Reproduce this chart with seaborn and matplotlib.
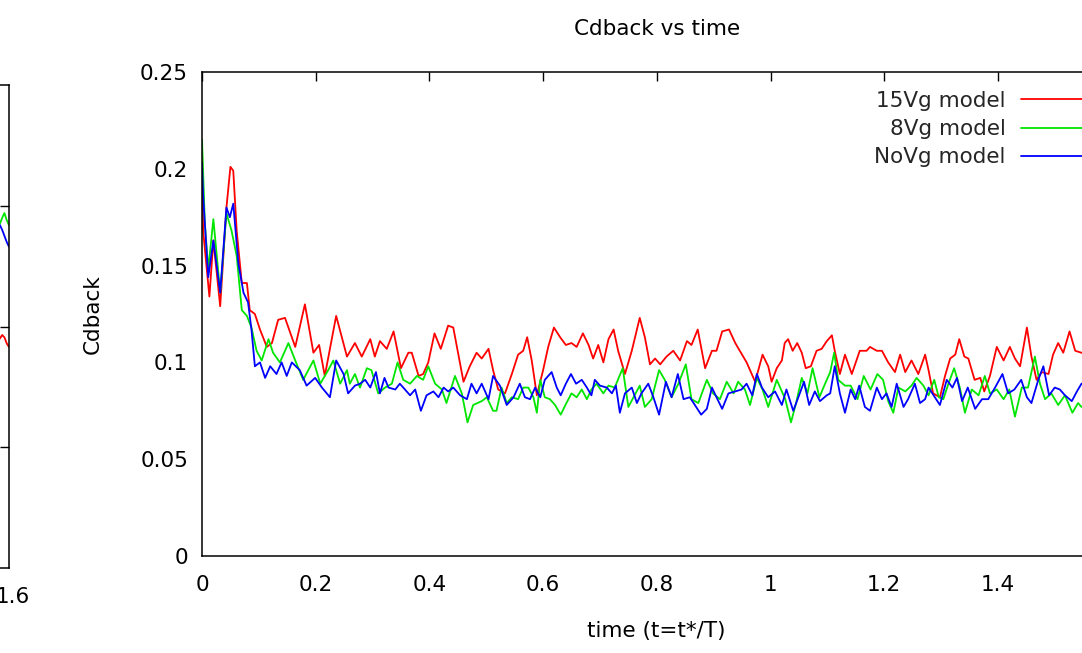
import numpy as np
import pandas as pd
import matplotlib
matplotlib.use("Agg")
import matplotlib.pyplot as plt
from matplotlib.ticker import FuncFormatter
from matplotlib.transforms import ScaledTranslation
import seaborn as sns

# ---------------- data ----------------
red_t = [0.000, 0.002, 0.013, 0.020, 0.032, 0.043, 0.050, 0.055, 0.061, 0.070, 0.079, 0.084, 0.093, 0.102,
         0.114, 0.123, 0.134, 0.146, 0.164, 0.181, 0.196, 0.206, 0.216, 0.236, 0.255, 0.269, 0.281, 0.296,
         0.304, 0.313, 0.325, 0.337, 0.350, 0.363, 0.369, 0.381, 0.389, 0.398, 0.409, 0.420, 0.433, 0.442,
         0.460, 0.471, 0.483, 0.492, 0.504, 0.512, 0.521, 0.533, 0.545, 0.556, 0.565, 0.572, 0.580, 0.589,
         0.600, 0.609, 0.619, 0.630, 0.640, 0.650, 0.659, 0.670, 0.680, 0.688, 0.697, 0.706, 0.715, 0.724,
         0.732, 0.744, 0.756, 0.770, 0.779, 0.788, 0.797, 0.806, 0.817, 0.829, 0.841, 0.853, 0.861, 0.872,
         0.885, 0.897, 0.905, 0.915, 0.927, 0.938, 0.946, 0.958, 0.973, 0.986, 0.996, 1.002, 1.011, 1.020,
         1.025, 1.031, 1.039, 1.047, 1.055, 1.062, 1.071, 1.081, 1.090, 1.099, 1.108, 1.113, 1.122, 1.131,
         1.143, 1.157, 1.169, 1.175, 1.187, 1.196, 1.207, 1.219, 1.228, 1.237, 1.248, 1.260, 1.272, 1.278,
         1.286, 1.298, 1.307, 1.316, 1.325, 1.332, 1.341, 1.348, 1.359, 1.369, 1.376, 1.386, 1.398, 1.410,
         1.421, 1.430, 1.439, 1.451, 1.459, 1.468, 1.477, 1.489, 1.497, 1.506, 1.515, 1.526, 1.536, 1.547,
         1.560]
red_cd = [0.213, 0.168, 0.134, 0.163, 0.129, 0.180, 0.201, 0.199, 0.168, 0.141, 0.141, 0.127, 0.125, 0.117,
          0.108, 0.110, 0.122, 0.123, 0.108, 0.130, 0.105, 0.109, 0.093, 0.124, 0.103, 0.110, 0.103, 0.112,
          0.103, 0.111, 0.107, 0.116, 0.097, 0.105, 0.105, 0.093, 0.094, 0.100, 0.115, 0.107, 0.119, 0.118,
          0.090, 0.098, 0.105, 0.102, 0.107, 0.096, 0.086, 0.084, 0.094, 0.104, 0.106, 0.113, 0.101, 0.083,
          0.096, 0.108, 0.118, 0.113, 0.109, 0.110, 0.108, 0.115, 0.109, 0.102, 0.109, 0.100, 0.112, 0.117,
          0.106, 0.094, 0.106, 0.123, 0.113, 0.099, 0.102, 0.099, 0.103, 0.106, 0.101, 0.111, 0.109, 0.117,
          0.097, 0.106, 0.106, 0.116, 0.117, 0.110, 0.106, 0.100, 0.090, 0.104, 0.098, 0.090, 0.097, 0.101,
          0.110, 0.112, 0.106, 0.110, 0.105, 0.097, 0.098, 0.106, 0.107, 0.111, 0.114, 0.106, 0.094, 0.104,
          0.094, 0.106, 0.106, 0.108, 0.106, 0.106, 0.100, 0.095, 0.104, 0.095, 0.101, 0.094, 0.104, 0.096,
          0.084, 0.082, 0.093, 0.102, 0.104, 0.112, 0.103, 0.102, 0.091, 0.092, 0.085, 0.093, 0.108, 0.101,
          0.108, 0.102, 0.098, 0.118, 0.103, 0.091, 0.095, 0.094, 0.104, 0.110, 0.105, 0.116, 0.106, 0.105,
          0.103]

green_t = [0.000, 0.005, 0.011, 0.020, 0.032, 0.043, 0.052, 0.061, 0.070, 0.079, 0.087, 0.096, 0.105, 0.117,
           0.125, 0.137, 0.152, 0.164, 0.178, 0.196, 0.208, 0.222, 0.231, 0.243, 0.255, 0.260, 0.269, 0.278,
           0.290, 0.298, 0.310, 0.322, 0.334, 0.344, 0.354, 0.366, 0.378, 0.389, 0.398, 0.410, 0.422, 0.430,
           0.445, 0.457, 0.467, 0.477, 0.492, 0.501, 0.512, 0.518, 0.527, 0.536, 0.545, 0.556, 0.565, 0.574,
           0.583, 0.589, 0.595, 0.603, 0.612, 0.621, 0.631, 0.641, 0.650, 0.659, 0.668, 0.677, 0.685, 0.694,
           0.706, 0.715, 0.726, 0.740, 0.750, 0.759, 0.770, 0.779, 0.791, 0.804, 0.814, 0.826, 0.838, 0.851,
           0.861, 0.873, 0.888, 0.899, 0.911, 0.923, 0.935, 0.943, 0.955, 0.964, 0.976, 0.986, 0.996, 1.011,
           1.026, 1.036, 1.045, 1.055, 1.065, 1.074, 1.086, 1.096, 1.105, 1.112, 1.119, 1.131, 1.141, 1.153,
           1.164, 1.176, 1.188, 1.198, 1.207, 1.216, 1.225, 1.237, 1.248, 1.257, 1.269, 1.278, 1.288, 1.296,
           1.304, 1.313, 1.323, 1.333, 1.342, 1.354, 1.366, 1.377, 1.386, 1.398, 1.410, 1.420, 1.430, 1.442,
           1.453, 1.465, 1.474, 1.483, 1.494, 1.506, 1.518, 1.531, 1.541, 1.547, 1.560]
green_cd = [0.215, 0.172, 0.148, 0.174, 0.136, 0.177, 0.168, 0.155, 0.127, 0.124, 0.118, 0.106, 0.101, 0.112,
            0.105, 0.100, 0.110, 0.101, 0.091, 0.101, 0.089, 0.096, 0.101, 0.089, 0.096, 0.089, 0.094, 0.087,
            0.097, 0.096, 0.084, 0.087, 0.089, 0.100, 0.091, 0.089, 0.093, 0.091, 0.098, 0.089, 0.086, 0.079,
            0.093, 0.084, 0.069, 0.078, 0.080, 0.082, 0.075, 0.075, 0.087, 0.079, 0.082, 0.081, 0.087, 0.087,
            0.082, 0.074, 0.091, 0.082, 0.081, 0.078, 0.073, 0.079, 0.084, 0.082, 0.086, 0.081, 0.086, 0.089,
            0.084, 0.088, 0.087, 0.097, 0.077, 0.082, 0.088, 0.077, 0.081, 0.096, 0.091, 0.082, 0.089, 0.099,
            0.081, 0.079, 0.091, 0.084, 0.081, 0.090, 0.084, 0.090, 0.086, 0.078, 0.092, 0.086, 0.077, 0.091,
            0.081, 0.069, 0.079, 0.092, 0.084, 0.097, 0.082, 0.089, 0.095, 0.105, 0.091, 0.088, 0.088, 0.081,
            0.093, 0.086, 0.094, 0.091, 0.080, 0.074, 0.087, 0.085, 0.088, 0.092, 0.088, 0.083, 0.091, 0.082,
            0.081, 0.089, 0.097, 0.087, 0.074, 0.086, 0.083, 0.093, 0.084, 0.086, 0.081, 0.086, 0.072, 0.087,
            0.087, 0.103, 0.089, 0.081, 0.084, 0.078, 0.083, 0.074, 0.079, 0.077, 0.079]

blue_t = [0.000, 0.002, 0.011, 0.020, 0.032, 0.043, 0.049, 0.055, 0.064, 0.073, 0.081, 0.087, 0.093, 0.102,
          0.111, 0.120, 0.131, 0.140, 0.149, 0.158, 0.172, 0.184, 0.199, 0.211, 0.225, 0.236, 0.249, 0.257,
          0.269, 0.278, 0.287, 0.296, 0.306, 0.313, 0.321, 0.328, 0.340, 0.348, 0.357, 0.366, 0.375, 0.385,
          0.395, 0.407, 0.416, 0.425, 0.433, 0.442, 0.454, 0.466, 0.474, 0.483, 0.492, 0.504, 0.512, 0.524,
          0.536, 0.548, 0.559, 0.568, 0.577, 0.586, 0.595, 0.603, 0.615, 0.624, 0.631, 0.640, 0.649, 0.658,
          0.668, 0.677, 0.685, 0.691, 0.700, 0.712, 0.721, 0.728, 0.735, 0.744, 0.756, 0.765, 0.773, 0.785,
          0.794, 0.804, 0.816, 0.826, 0.837, 0.847, 0.858, 0.867, 0.878, 0.888, 0.897, 0.905, 0.915, 0.926,
          0.938, 0.949, 0.958, 0.968, 0.976, 0.985, 0.996, 1.008, 1.020, 1.028, 1.040, 1.049, 1.059, 1.068,
          1.078, 1.087, 1.099, 1.105, 1.113, 1.122, 1.131, 1.141, 1.149, 1.156, 1.166, 1.175, 1.187, 1.196,
          1.204, 1.213, 1.222, 1.234, 1.242, 1.254, 1.263, 1.272, 1.278, 1.289, 1.298, 1.310, 1.320, 1.328,
          1.337, 1.347, 1.360, 1.372, 1.383, 1.395, 1.408, 1.418, 1.429, 1.441, 1.451, 1.459, 1.471, 1.480,
          1.490, 1.500, 1.509, 1.518, 1.530, 1.539, 1.547, 1.560]
blue_cd = [0.203, 0.186, 0.144, 0.163, 0.136, 0.180, 0.175, 0.182, 0.151, 0.136, 0.131, 0.117, 0.098, 0.100,
           0.092, 0.098, 0.094, 0.100, 0.093, 0.100, 0.096, 0.088, 0.092, 0.087, 0.082, 0.101, 0.094, 0.084,
           0.088, 0.089, 0.091, 0.087, 0.095, 0.084, 0.092, 0.087, 0.086, 0.089, 0.086, 0.083, 0.086, 0.075,
           0.083, 0.085, 0.082, 0.087, 0.085, 0.087, 0.083, 0.081, 0.089, 0.084, 0.089, 0.081, 0.093, 0.088,
           0.078, 0.082, 0.089, 0.082, 0.081, 0.087, 0.082, 0.091, 0.095, 0.087, 0.083, 0.089, 0.094, 0.089,
           0.091, 0.087, 0.083, 0.091, 0.088, 0.087, 0.084, 0.088, 0.074, 0.084, 0.087, 0.079, 0.084, 0.089,
           0.082, 0.073, 0.090, 0.082, 0.094, 0.081, 0.082, 0.078, 0.073, 0.076, 0.087, 0.082, 0.076, 0.084,
           0.085, 0.086, 0.089, 0.083, 0.094, 0.087, 0.082, 0.085, 0.078, 0.086, 0.075, 0.082, 0.090, 0.078,
           0.085, 0.080, 0.083, 0.084, 0.098, 0.084, 0.074, 0.086, 0.081, 0.088, 0.077, 0.075, 0.087, 0.081,
           0.084, 0.077, 0.089, 0.077, 0.081, 0.089, 0.079, 0.081, 0.087, 0.082, 0.078, 0.091, 0.087, 0.092,
           0.080, 0.087, 0.076, 0.081, 0.081, 0.087, 0.094, 0.084, 0.086, 0.091, 0.082, 0.079, 0.091, 0.098,
           0.083, 0.087, 0.086, 0.083, 0.080, 0.085, 0.089, 0.090]

# tail of the neighbouring (cropped) plot on the far left
left_t = [1.584, 1.588, 1.592, 1.596, 1.600]
left_red = [0.190, 0.193, 0.191, 0.186, 0.183]
left_green = [0.285, 0.290, 0.294, 0.288, 0.284]
left_blue = [0.284, 0.280, 0.275, 0.270, 0.266]

series_names = ["15Vg model", "8Vg model", "NoVg model"]
series_colors = ["#ff0000", "#00e600", "#0000ff"]
x_ticks = [0, 0.2, 0.4, 0.6, 0.8, 1.0, 1.2, 1.4, 1.6]
y_ticks = [0, 0.05, 0.10, 0.15, 0.20, 0.25]
title = "Cdback vs time"
xlabel = "time (t=t*/T)"
ylabel = "Cdback"

# ---------------- style ----------------
sns.set_theme(style="white")
plt.rcParams["font.family"] = ["DejaVu Sans"]
FS = 15.5

W, H = 1082, 653
fig = plt.figure(figsize=(W / 100, H / 100), dpi=100)

def fx(px):
    return px / W

def fy(py):
    return 1 - py / H

gfmt = FuncFormatter(lambda v, p: "%g" % round(v, 6))
# the last x tick label of the main panel lies outside the cropped picture
main_xfmt = FuncFormatter(lambda v, p: "" if v > 1.5 else "%g" % round(v, 6))

# ---------------- main axes ----------------
x0_px, x16_px = 202, 1111.6
top_px, bot_px = 72, 556
ax = fig.add_axes([fx(x0_px), fy(bot_px), (x16_px - x0_px) / W, (bot_px - top_px) / H])

frames = [
    pd.DataFrame({"t": red_t, "cd": red_cd}),
    pd.DataFrame({"t": green_t, "cd": green_cd}),
    pd.DataFrame({"t": blue_t, "cd": blue_cd}),
]
for df, name, col in zip(frames, series_names, series_colors):
    sns.lineplot(data=df, x="t", y="cd", ax=ax, color=col, label=name,
                 linewidth=1.3, estimator=None, sort=False)

ax.set_xlim(0, 1.6)
ax.set_ylim(0, 0.25)
ax.set_xticks(x_ticks)
ax.set_yticks(y_ticks)
ax.xaxis.set_major_formatter(main_xfmt)
ax.yaxis.set_major_formatter(gfmt)
ax.set_xlabel("")
ax.set_ylabel("")
ax.tick_params(axis="both", which="major", direction="in", length=6.5, width=1.0,
               top=True, right=True, labelsize=FS, colors="black")
ax.tick_params(axis="y", pad=10)
ax.tick_params(axis="x", pad=14)
for sp in ax.spines.values():
    sp.set_color("black")
    sp.set_linewidth(1.1)
ax.grid(False)

leg = ax.legend(loc="upper right", bbox_to_anchor=((1098 - x0_px) / (x16_px - x0_px), (556 - 91) / 484),
                markerfirst=False, frameon=False, fontsize=FS, handlelength=3.6,
                handletextpad=0.7, labelspacing=0.38, borderaxespad=0, borderpad=0)
for txt in leg.get_texts():
    txt.set_ha("right")
leg._legend_box.align = "right"

# ---------------- cropped neighbour axes on the far left ----------------
lr_px = 9
l_top, l_bot = 85, 568
axl = fig.add_axes([fx(lr_px - 1.6 * 568.5), fy(l_bot), 1.6 * 568.5 / W, (l_bot - l_top) / H])
for yv, col in zip([left_red, left_green, left_blue], series_colors):
    sns.lineplot(x=left_t, y=yv, ax=axl, color=col, linewidth=1.3, estimator=None, sort=False, legend=False)
axl.set_xlim(0, 1.6)
axl.set_ylim(0, 0.4)
axl.set_xticks([1.6])
axl.set_yticks([0.1, 0.2, 0.3])
axl.xaxis.set_major_formatter(gfmt)
axl.tick_params(axis="both", direction="in", length=6.5, width=1.0, right=True,
                labelleft=False, labelsize=FS, colors="black")
axl.tick_params(axis="x", pad=14, length=0)
for sp in axl.spines.values():
    sp.set_color("black")
    sp.set_linewidth(1.1)
shift = ScaledTranslation(4 / 100, 0, fig.dpi_scale_trans)
for lab in axl.get_xticklabels():
    lab.set_transform(lab.get_transform() + shift)

# ---------------- labels ----------------
fig.text(fx(657), fy(29), title, ha="center", va="center", fontsize=FS, color="black")
fig.text(fx(656), fy(631), xlabel, ha="center", va="center", fontsize=FS, color="black")
fig.text(fx(93), fy(314), ylabel, ha="center", va="center", rotation=90, fontsize=FS, color="black")

fig.savefig("out.png", dpi=100, facecolor="white")
